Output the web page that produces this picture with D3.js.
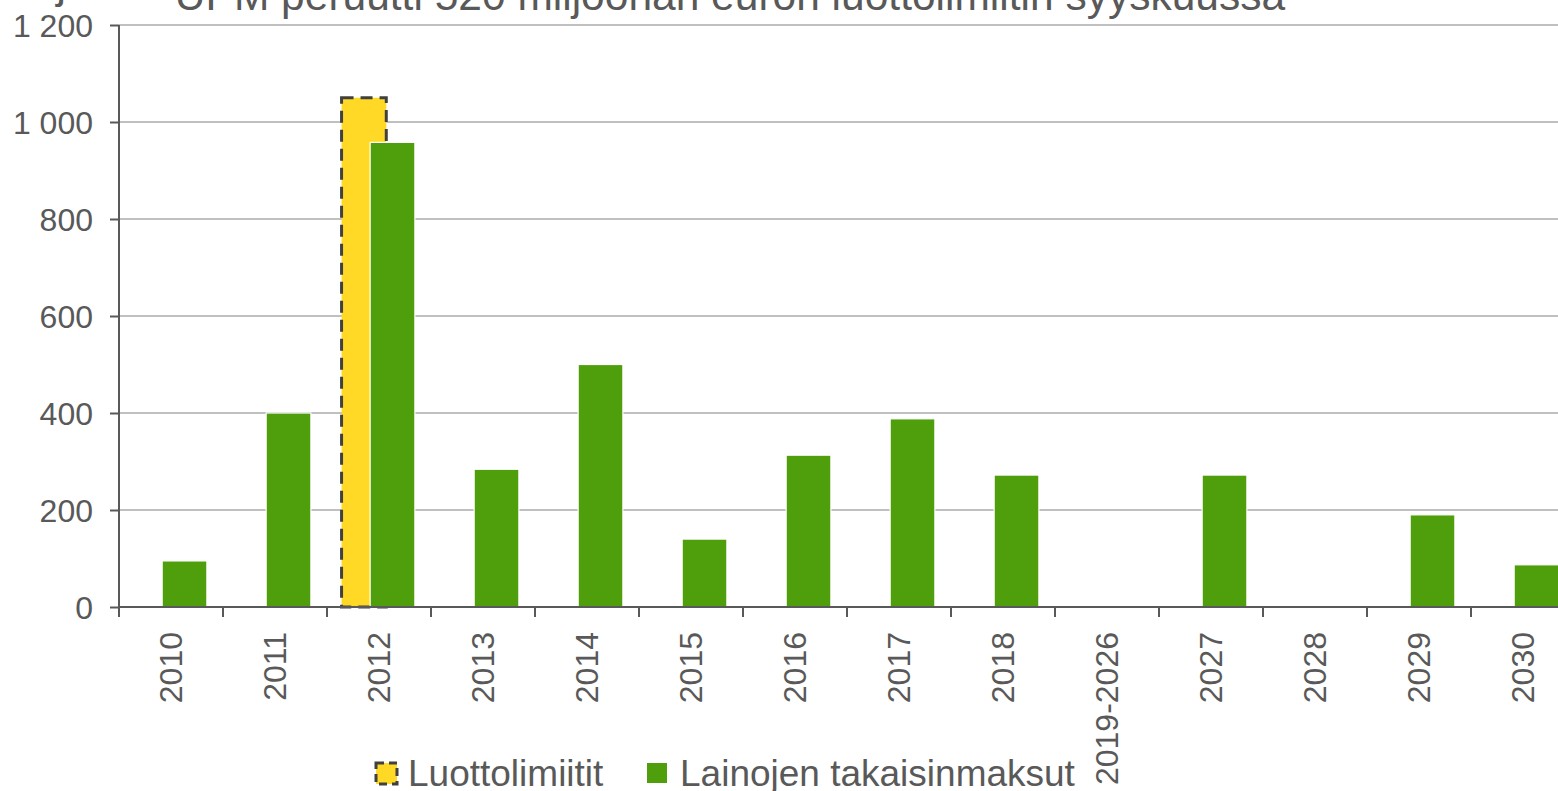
<!DOCTYPE html>
<html lang="fi">
<head>
    <meta charset="UTF-8">
    <title>UPM luottolimiitit ja lainojen takaisinmaksut</title>
    <script src="https://d3js.org/d3.v7.min.js"></script>
    <style>
        html, body { margin: 0; padding: 0; background: #fff; overflow: hidden; }
        text { font-family: "Liberation Sans", Arial, sans-serif; fill: #595959; }
        .grid line { stroke: #c0c0c0; stroke-width: 2; }
        .axis path, .axis line { stroke: #595959; stroke-width: 2; fill: none; }
    </style>
</head>
<body>
<div id="chart"></div>
<script>
    const width = 1558;
    const height = 791;

    // data
    const categories = ["2010", "2011", "2012", "2013", "2014", "2015", "2016", "2017", "2018",
        "2019-2026", "2027", "2028", "2029", "2030"];
    const luottolimiitit = [0, 0, 1050, 0, 0, 0, 0, 0, 0, 0, 0, 0, 0, 0];
    const takaisinmaksut = [95, 400, 958, 284, 500, 140, 313, 388, 272, 0, 272, 0, 190, 87];
    const yTicks = [0, 200, 400, 600, 800, 1000, 1200];

    const title = "UPM peruutti 520 miljoonan euron luottolimiitin syyskuussa";
    const unit = "Milj. €";
    const seriesNames = ["Luottolimiitit", "Lainojen takaisinmaksut"];

    const yellow = "#ffd926";
    const green = "#4f9e0b";

    const svg = d3.select("#chart").append("svg")
        .attr("width", width).attr("height", height);

    const x = d3.scaleBand().domain(categories).range([119, 1575]).padding(0);
    const y = d3.scaleLinear().domain([0, 1200]).range([607, 25]);
    const bw = x.bandwidth();

    // gridlines
    svg.append("g").attr("class", "grid")
        .selectAll("line")
        .data(yTicks.slice(1))
        .enter().append("line")
        .attr("x1", 119).attr("x2", width)
        .attr("y1", d => y(d)).attr("y2", d => y(d));

    // yellow bars (dashed outline), drawn behind green
    svg.append("g").selectAll("rect")
        .data(categories.map((c, i) => ({c: c, v: luottolimiitit[i]})).filter(d => d.v > 0))
        .enter().append("rect")
        .attr("x", d => x(d.c) + bw * 0.14)
        .attr("y", d => y(d.v))
        .attr("width", bw * 0.43)
        .attr("height", d => y(0) - y(d.v))
        .attr("fill", yellow)
        .attr("stroke", "#404040")
        .attr("stroke-width", 3)
        .attr("stroke-dasharray", "12,7");

    // green bars
    svg.append("g").selectAll("rect")
        .data(categories.map((c, i) => ({c: c, v: takaisinmaksut[i]})).filter(d => d.v > 0))
        .enter().append("rect")
        .attr("x", d => x(d.c) + bw * 0.415)
        .attr("y", d => y(d.v))
        .attr("width", bw * 0.43)
        .attr("height", d => y(0) - y(d.v))
        .attr("fill", green)
        .attr("stroke", "#ffffff")
        .attr("stroke-width", 1.2);

    // y axis
    const yAxis = svg.append("g").attr("class", "axis")
        .attr("transform", "translate(119,0)")
        .call(d3.axisLeft(y).tickValues(yTicks).tickSize(9).tickPadding(17)
            .tickFormat(d => d3.format(",")(d).replace(",", " ")));
    yAxis.select(".domain").attr("d", "M0,25V617");
    yAxis.selectAll("text").attr("font-size", 32).attr("dy", "0.36em");

    // x axis
    const xAxis = svg.append("g").attr("class", "axis")
        .attr("transform", "translate(0,607)");
    xAxis.append("path").attr("d", `M119,0H${width}`);
    xAxis.selectAll("line.tick")
        .data(categories)
        .enter().append("line")
        .attr("x1", d => x(d)).attr("x2", d => x(d))
        .attr("y1", 0).attr("y2", 10);
    xAxis.selectAll("text")
        .data(categories)
        .enter().append("text")
        .attr("transform", d => `translate(${x(d) + bw / 2 + 11},25) rotate(-90)`)
        .attr("text-anchor", "end")
        .attr("font-size", 32)
        .text(d => d);

    // title and unit (cut at top edge)
    svg.append("text")
        .attr("x", 730).attr("y", 10)
        .attr("text-anchor", "middle")
        .attr("font-size", 42.5)
        .text(title);
    svg.append("text")
        .attr("x", 0).attr("y", -2)
        .attr("font-size", 44)
        .text(unit);

    // legend
    const legend = svg.append("g");
    legend.append("rect")
        .attr("x", 376).attr("y", 763).attr("width", 21).attr("height", 21)
        .attr("fill", yellow).attr("stroke", "#404040")
        .attr("stroke-width", 3).attr("stroke-dasharray", "8,5");
    legend.append("text")
        .attr("x", 408).attr("y", 786)
        .attr("font-size", 37)
        .text(seriesNames[0]);
    legend.append("rect")
        .attr("x", 647).attr("y", 763).attr("width", 20).attr("height", 20)
        .attr("fill", green);
    legend.append("text")
        .attr("x", 680).attr("y", 786)
        .attr("font-size", 37)
        .text(seriesNames[1]);
</script>
</body>
</html>
